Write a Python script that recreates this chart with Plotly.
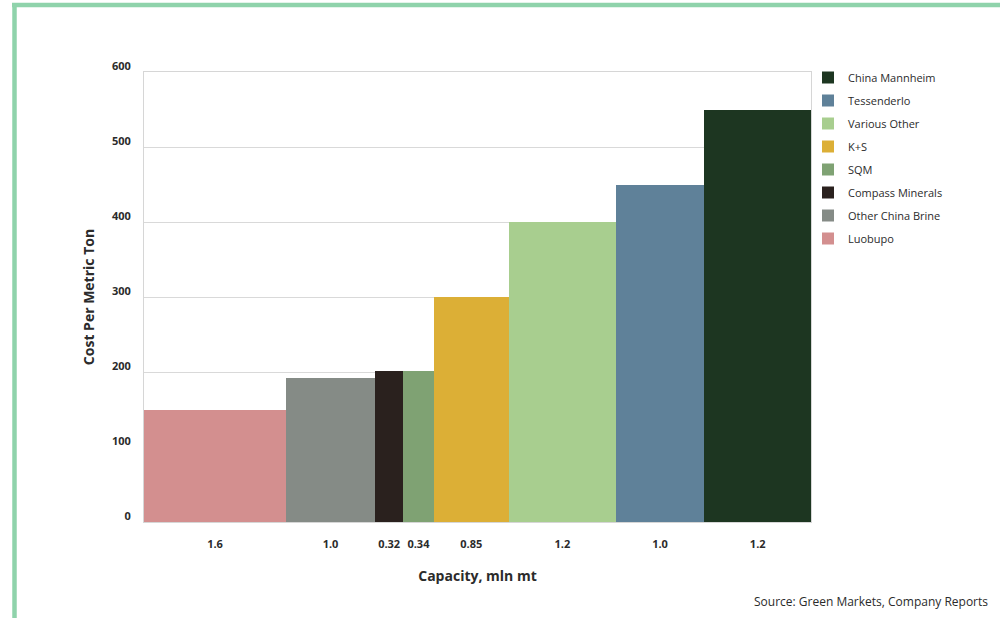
import plotly.graph_objects as go

companies = ["Luobupo", "Other China Brine", "Compass Minerals", "SQM", "K+S",
             "Various Other", "Tessenderlo", "China Mannheim"]
capacity = [1.6, 1.0, 0.32, 0.34, 0.85, 1.2, 1.0, 1.2]
capacity_labels = ["1.6", "1.0", "0.32", "0.34", "0.85", "1.2", "1.0", "1.2"]
cost = [150, 192, 202, 202, 300, 400, 450, 550]
colors = ["#d38f8f", "#858b86", "#2a211e", "#7fa273", "#dcaf36",
          "#a8ce8f", "#5f8199", "#1d3621"]
y_ticks = [0, 100, 200, 300, 400, 500, 600]

# cumulative positions for variable-width bars
starts = []
acc = 0.0
for w in capacity:
    starts.append(acc)
    acc += w
centers = [s + w / 2 for s, w in zip(starts, capacity)]
total = acc

FONT = "Open Sans"
TXT = "#2b2b2b"

fig = go.Figure()
n = len(companies)
for i, (name, x, w, c, col) in enumerate(zip(companies, centers, capacity, cost, colors)):
    fig.add_trace(go.Bar(
        x=[x], y=[c], width=[w], name=name, legendgroup=name,
        legendrank=(n - i) * 10,
        marker=dict(color=col, line=dict(width=0)),
        hovertemplate=name + "<br>Capacity %{customdata}<br>Cost %{y}<extra></extra>",
        customdata=[w],
    ))

L, R, T, B = 144, 189, 72, 96
W, H = 1000, 618
pw, ph = W - L - R, H - T - B

def px(x):
    return (x - L) / pw

def py(y):
    return (H - B - y) / ph

fig.update_layout(
    width=W, height=H,
    margin=dict(l=L, r=R, t=T, b=B, autoexpand=False),
    paper_bgcolor="white", plot_bgcolor="white",
    bargap=0,
    font=dict(family=FONT, color=TXT, size=11),
    xaxis=dict(
        range=[0, total], tickmode="array", tickvals=centers, ticktext=capacity_labels,
        showgrid=False, zeroline=False, showline=True, linecolor="#d6d6d6", linewidth=1,
        mirror=True, ticks="", ticklen=0, ticklabelstandoff=12,
        tickfont=dict(family=FONT, size=11, color=TXT, weight="bold"),
        title=dict(text="Capacity, mln mt", standoff=20,
                   font=dict(family=FONT, size=14, color=TXT, weight="bold")),
        fixedrange=True,
    ),
    yaxis=dict(
        range=[0, 600], tickmode="array", tickvals=y_ticks,
        showgrid=True, gridcolor="#d9d9d9", gridwidth=1,
        zeroline=False, showline=True, linecolor="#d6d6d6", linewidth=1, mirror=True,
        ticks="", ticklabelshift=-6, ticklabelstandoff=10,
        tickfont=dict(family=FONT, size=11, color=TXT, weight="bold"),
        title=dict(text="Cost Per Metric Ton", standoff=14,
                   font=dict(family=FONT, size=14, color=TXT, weight="bold")),
        fixedrange=True,
    ),
    legend=dict(
        x=px(808), y=py(63), xanchor="left", yanchor="top",
        traceorder="grouped", bgcolor="rgba(0,0,0,0)",
        font=dict(family=FONT, size=11, color=TXT),
        itemwidth=30, tracegroupgap=4,
    ),
    showlegend=True,
    annotations=[dict(
        text="Source: Green Markets, Company Reports", xref="paper", yref="paper",
        x=px(990), y=py(601), xanchor="right", yanchor="middle", showarrow=False,
        font=dict(family=FONT, size=12, color=TXT),
    )],
    shapes=[
        dict(type="line", xref="paper", yref="paper",
             x0=px(12), x1=px(1005), y0=py(5), y1=py(5),
             line=dict(color="#8fd3ab", width=4.5)),
        dict(type="line", xref="paper", yref="paper",
             x0=px(14.5), x1=px(14.5), y0=py(3), y1=py(625),
             line=dict(color="#8fd3ab", width=4.5)),
    ],
)

fig.write_html("out.html")
